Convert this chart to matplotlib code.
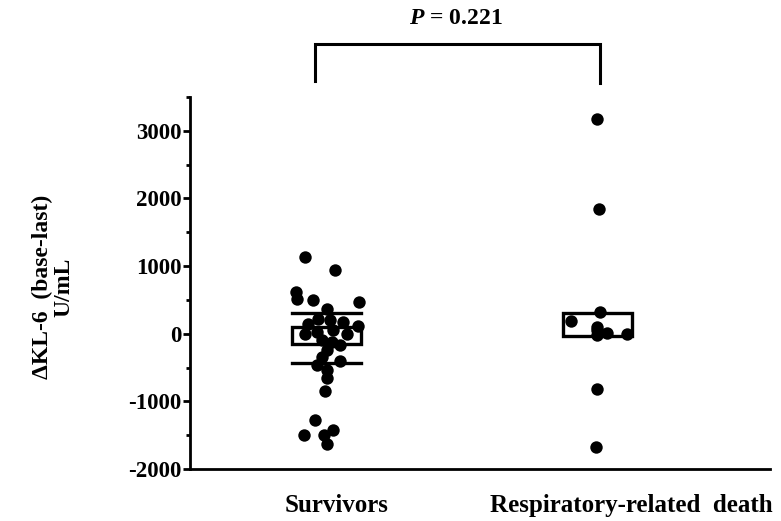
import matplotlib
matplotlib.use("Agg")
import matplotlib.pyplot as plt
from matplotlib.patches import Rectangle
from matplotlib.ticker import MultipleLocator

plt.rcParams['font.family'] = ['Liberation Serif', 'DejaVu Serif']
plt.rcParams['font.weight'] = 'bold'
plt.rcParams['axes.unicode_minus'] = False
plt.rcParams['mathtext.fontset'] = 'custom'
plt.rcParams['mathtext.it'] = 'Liberation Serif:italic:bold'
plt.rcParams['mathtext.rm'] = 'Liberation Serif:bold'

# Group labels
groups = ['Survivors', 'Respiratory-related  death']

# Survivors: horizontal jitter (group units) and values (U/mL)
surv_jitter = [-0.035, 0.070, -0.067, -0.063, -0.007, 0.154, 0.042,
               -0.025, 0.011, 0.053, 0.098, 0.151, -0.035, 0.007, 0.063,
               0.112, 0.025, 0.060, 0.088, 0.042, 0.025, 0.088, 0.007,
               0.042, 0.042, 0.035, 0.000, -0.039, 0.063, 0.042, 0.032]
surv_values = [1140, 935, 620, 520, 505, 475, 370,
               150, 225, 210, 180, 120, 0, 30, 60,
               0, -90, -120, -165, -240, -340, -400, -460,
               -535, -655, -845, -1275, -1500, -1425, -1630, -1500]

# Respiratory-related death
resp_jitter = [-0.011, -0.004, 0.000, -0.102, -0.011, -0.011, -0.011, 0.025, 0.095, -0.011, -0.014]
resp_values = [3180, 1840, 325, 195, 105, 60, -15, 15, 0, -815, -1675]

# Box (low, high) and bar lines for each group
box_low = [-150, -30]
box_high = [100, 310]
surv_bars = [310, -430]

p_text = r'$P$ = 0.221'

fig = plt.figure(figsize=(7.81, 5.21), dpi=100)
ax = fig.add_axes([190 / 781, 1 - 469 / 521, 580 / 781, 372 / 521])

ax.set_xlim(0.561, 2.596)
ax.set_ylim(-2000, 3500)

centers = [1, 2]
ax.scatter([centers[0] + j for j in surv_jitter], surv_values,
           s=80, color='black', zorder=3, linewidths=0)
ax.scatter([centers[1] + j for j in resp_jitter], resp_values,
           s=80, color='black', zorder=3, linewidths=0)

# boxes sit a little off the group centres in the original
box_centers = [1.04, 1.99]
hw = 0.121
for c, lo, hi in zip(box_centers, box_low, box_high):
    ax.add_patch(Rectangle((c - hw, lo), 2 * hw, hi - lo, fill=False,
                           edgecolor='black', linewidth=2.4, zorder=2))
for v in surv_bars:
    ax.plot([box_centers[0] - hw, box_centers[0] + hw], [v, v], color='black',
            linewidth=2.4, zorder=2)

# significance bracket
ax.plot([centers[0], centers[0], centers[1], centers[1]],
        [3740, 4290, 4290, 3700], color='black', linewidth=2.2,
        clip_on=False, solid_joinstyle='miter')
ax.text(1.495, 4660, p_text, ha='center', va='center',
        fontsize=17, fontweight='bold', clip_on=False)

for s in ['top', 'right']:
    ax.spines[s].set_visible(False)
ax.spines['left'].set_linewidth(2.0)
ax.spines['bottom'].set_linewidth(2.0)

ax.yaxis.set_major_locator(MultipleLocator(1000))
ax.yaxis.set_minor_locator(MultipleLocator(500))
ax.tick_params(axis='y', which='major', length=5, width=2, labelsize=16.5, pad=1)
ax.tick_params(axis='y', which='minor', length=3, width=2)
ax.set_xticks([])

label_x = [1.074, 2.109]
for x, g in zip(label_x, groups):
    ax.text(x, -2540, g, ha='center', va='center', fontsize=18,
            fontweight='bold')

fig.text(53 / 781, 1 - 287 / 521, 'ΔKL-6  (base-last)\nU/mL', rotation=90,
         ha='center', va='center', fontsize=17, fontweight='bold',
         linespacing=1.0)

fig.savefig('out.png', dpi=100)
